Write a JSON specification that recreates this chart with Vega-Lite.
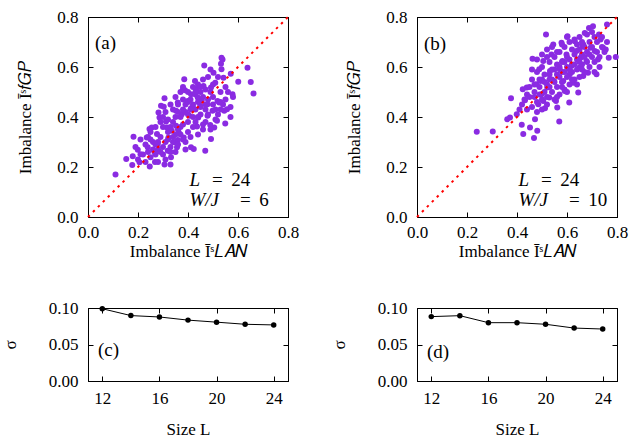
{
  "$schema": "https://vega.github.io/schema/vega-lite/v6.json",
  "background": "white",
  "padding": {"left": 0, "top": 7, "right": 5, "bottom": 2},
  "columns": 2,
  "bounds": "flush",
  "spacing": {"row": 91, "column": 129},
  "config": {
    "font": "Liberation Serif",
    "view": {"stroke": "black", "strokeWidth": 1},
    "style": {
      "guide-label": {"font": "Liberation Serif", "fontSize": 17, "fill": "black"},
      "guide-title": {"font": "Liberation Serif", "fontSize": 17, "fill": "black", "fontWeight": "normal"}
    },
    "axis": {
      "grid": false, "tickColor": "#000000", "tickWidth": 1, "domainColor": "black",
      "labelFont": "Liberation Serif", "labelFontSize": 17, "labelColor": "black",
      "titleFont": "Liberation Serif", "titleFontSize": 17, "titleFontWeight": "normal", "titleColor": "black",
      "labelFlush": false
    },
    "text": {"font": "Liberation Serif", "fontSize": 19, "color": "black"}
  },
  "datasets": {
    "one": [{}],
    "diag": [{"x": 0, "y": 0}, {"x": 0.8, "y": 0.8}],
    "scatterA": [
      {"x":0.110,"y":0.170},{"x":0.153,"y":0.232},{"x":0.179,"y":0.243},{"x":0.182,"y":0.321},{"x":0.177,"y":0.208},{"x":0.199,"y":0.269},{"x":0.210,"y":0.251},{"x":0.206,"y":0.219},{"x":0.235,"y":0.318},{"x":0.239,"y":0.279},{"x":0.247,"y":0.202},{"x":0.250,"y":0.239},{"x":0.246,"y":0.352},{"x":0.255,"y":0.358},{"x":0.268,"y":0.220},{"x":0.266,"y":0.259},{"x":0.276,"y":0.332},{"x":0.279,"y":0.292},{"x":0.286,"y":0.398},{"x":0.282,"y":0.418},{"x":0.292,"y":0.445},{"x":0.303,"y":0.441},{"x":0.306,"y":0.475},{"x":0.312,"y":0.382},{"x":0.316,"y":0.358},{"x":0.319,"y":0.265},{"x":0.306,"y":0.210},{"x":0.330,"y":0.210},{"x":0.332,"y":0.239},{"x":0.322,"y":0.318},{"x":0.335,"y":0.345},{"x":0.346,"y":0.299},{"x":0.359,"y":0.308},{"x":0.356,"y":0.279},{"x":0.352,"y":0.425},{"x":0.359,"y":0.458},{"x":0.352,"y":0.365},{"x":0.363,"y":0.338},{"x":0.375,"y":0.411},{"x":0.383,"y":0.318},{"x":0.385,"y":0.551},{"x":0.388,"y":0.507},{"x":0.380,"y":0.511},{"x":0.399,"y":0.464},{"x":0.405,"y":0.405},{"x":0.412,"y":0.279},{"x":0.423,"y":0.272},{"x":0.412,"y":0.435},{"x":0.412,"y":0.491},{"x":0.419,"y":0.441},{"x":0.428,"y":0.544},{"x":0.432,"y":0.511},{"x":0.439,"y":0.478},{"x":0.441,"y":0.398},{"x":0.436,"y":0.362},{"x":0.449,"y":0.445},{"x":0.455,"y":0.467},{"x":0.462,"y":0.524},{"x":0.465,"y":0.606},{"x":0.469,"y":0.265},{"x":0.478,"y":0.451},{"x":0.478,"y":0.405},{"x":0.489,"y":0.368},{"x":0.492,"y":0.312},{"x":0.498,"y":0.425},{"x":0.502,"y":0.577},{"x":0.509,"y":0.537},{"x":0.518,"y":0.464},{"x":0.516,"y":0.385},{"x":0.525,"y":0.458},{"x":0.532,"y":0.613},{"x":0.534,"y":0.637},{"x":0.534,"y":0.591},{"x":0.542,"y":0.557},{"x":0.545,"y":0.425},{"x":0.549,"y":0.374},{"x":0.556,"y":0.431},{"x":0.571,"y":0.573},{"x":0.578,"y":0.491},{"x":0.601,"y":0.541},{"x":0.638,"y":0.597},{"x":0.651,"y":0.540},{"x":0.662,"y":0.494},{"x":0.492,"y":0.518},{"x":0.505,"y":0.358},{"x":0.538,"y":0.630},
      {"x":0.26,"y":0.30},{"x":0.28,"y":0.27},{"x":0.30,"y":0.28},{"x":0.31,"y":0.30},{"x":0.33,"y":0.28},{"x":0.29,"y":0.32},{"x":0.27,"y":0.25},{"x":0.24,"y":0.26},{"x":0.23,"y":0.29},{"x":0.25,"y":0.31},{"x":0.32,"y":0.34},{"x":0.34,"y":0.32},{"x":0.36,"y":0.35},{"x":0.38,"y":0.37},{"x":0.37,"y":0.40},{"x":0.39,"y":0.42},{"x":0.40,"y":0.38},{"x":0.42,"y":0.40},{"x":0.43,"y":0.43},{"x":0.44,"y":0.46},{"x":0.41,"y":0.47},{"x":0.43,"y":0.49},{"x":0.45,"y":0.50},{"x":0.46,"y":0.48},{"x":0.47,"y":0.43},{"x":0.48,"y":0.47},{"x":0.49,"y":0.50},{"x":0.50,"y":0.48},{"x":0.51,"y":0.43},{"x":0.52,"y":0.41},{"x":0.47,"y":0.38},{"x":0.46,"y":0.35},{"x":0.44,"y":0.33},{"x":0.42,"y":0.36},{"x":0.40,"y":0.34},{"x":0.38,"y":0.31},{"x":0.36,"y":0.29},{"x":0.35,"y":0.26},{"x":0.30,"y":0.36},{"x":0.32,"y":0.39},{"x":0.34,"y":0.43},{"x":0.36,"y":0.45},{"x":0.38,"y":0.47},{"x":0.40,"y":0.50},{"x":0.42,"y":0.52},{"x":0.44,"y":0.53},{"x":0.46,"y":0.55},{"x":0.48,"y":0.56},{"x":0.50,"y":0.53},{"x":0.53,"y":0.50},{"x":0.55,"y":0.47},{"x":0.54,"y":0.45},{"x":0.56,"y":0.50},{"x":0.52,"y":0.56},{"x":0.49,"y":0.59},{"x":0.47,"y":0.51},{"x":0.39,"y":0.45},{"x":0.37,"y":0.50},{"x":0.41,"y":0.43},{"x":0.35,"y":0.40},{"x":0.33,"y":0.36},{"x":0.31,"y":0.42},{"x":0.29,"y":0.38},{"x":0.27,"y":0.36},{"x":0.25,"y":0.34},{"x":0.22,"y":0.25},{"x":0.20,"y":0.23},{"x":0.19,"y":0.28},{"x":0.21,"y":0.31},{"x":0.23,"y":0.22},{"x":0.28,"y":0.22},{"x":0.30,"y":0.25},{"x":0.34,"y":0.30},{"x":0.37,"y":0.33},{"x":0.39,"y":0.30},{"x":0.41,"y":0.32},{"x":0.43,"y":0.38},{"x":0.45,"y":0.41},{"x":0.47,"y":0.45},{"x":0.50,"y":0.45},{"x":0.51,"y":0.39},{"x":0.49,"y":0.35},{"x":0.46,"y":0.37},{"x":0.44,"y":0.40},{"x":0.40,"y":0.46},{"x":0.38,"y":0.43},{"x":0.36,"y":0.42},{"x":0.34,"y":0.38},{"x":0.32,"y":0.31},{"x":0.28,"y":0.30},{"x":0.26,"y":0.27},{"x":0.24,"y":0.32},{"x":0.30,"y":0.40},{"x":0.33,"y":0.45},{"x":0.35,"y":0.48},{"x":0.38,"y":0.52},{"x":0.45,"y":0.44},{"x":0.53,"y":0.46},{"x":0.57,"y":0.44},{"x":0.58,"y":0.48},{"x":0.48,"y":0.41},{"x":0.42,"y":0.45},{"x":0.40,"y":0.41},{"x":0.37,"y":0.36},{"x":0.35,"y":0.33},{"x":0.33,"y":0.26},{"x":0.31,"y":0.23},{"x":0.29,"y":0.26},{"x":0.27,"y":0.29},{"x":0.39,"y":0.27},{"x":0.43,"y":0.50},{"x":0.45,"y":0.52},{"x":0.55,"y":0.52},{"x":0.57,"y":0.40},{"x":0.53,"y":0.43}
    ],
    "scatterB": [
      {"x":0.239,"y":0.341},{"x":0.303,"y":0.342},{"x":0.372,"y":0.398},{"x":0.361,"y":0.391},{"x":0.376,"y":0.475},{"x":0.399,"y":0.411},{"x":0.419,"y":0.369},{"x":0.425,"y":0.332},{"x":0.423,"y":0.511},{"x":0.432,"y":0.467},{"x":0.439,"y":0.518},{"x":0.452,"y":0.358},{"x":0.462,"y":0.633},{"x":0.468,"y":0.316},{"x":0.472,"y":0.391},{"x":0.481,"y":0.345},{"x":0.478,"y":0.531},{"x":0.485,"y":0.451},{"x":0.489,"y":0.591},{"x":0.494,"y":0.544},{"x":0.498,"y":0.491},{"x":0.505,"y":0.464},{"x":0.512,"y":0.435},{"x":0.516,"y":0.730},{"x":0.505,"y":0.624},{"x":0.521,"y":0.518},{"x":0.529,"y":0.478},{"x":0.532,"y":0.584},{"x":0.538,"y":0.650},{"x":0.545,"y":0.690},{"x":0.548,"y":0.544},{"x":0.556,"y":0.464},{"x":0.561,"y":0.438},{"x":0.569,"y":0.382},{"x":0.571,"y":0.591},{"x":0.578,"y":0.697},{"x":0.582,"y":0.624},{"x":0.585,"y":0.544},{"x":0.591,"y":0.504},{"x":0.598,"y":0.650},{"x":0.602,"y":0.723},{"x":0.609,"y":0.458},{"x":0.611,"y":0.571},{"x":0.618,"y":0.604},{"x":0.625,"y":0.537},{"x":0.631,"y":0.703},{"x":0.638,"y":0.664},{"x":0.645,"y":0.498},{"x":0.649,"y":0.597},{"x":0.654,"y":0.637},{"x":0.662,"y":0.683},{"x":0.665,"y":0.564},{"x":0.671,"y":0.736},{"x":0.678,"y":0.624},{"x":0.684,"y":0.577},{"x":0.688,"y":0.756},{"x":0.694,"y":0.677},{"x":0.704,"y":0.763},{"x":0.711,"y":0.664},{"x":0.718,"y":0.571},{"x":0.724,"y":0.630},{"x":0.734,"y":0.710},{"x":0.744,"y":0.677},{"x":0.755,"y":0.670},{"x":0.760,"y":0.770},{"x":0.767,"y":0.637},{"x":0.795,"y":0.640},{"x":0.728,"y":0.730},{"x":0.665,"y":0.690},
      {"x":0.47,"y":0.50},{"x":0.49,"y":0.52},{"x":0.50,"y":0.55},{"x":0.51,"y":0.50},{"x":0.52,"y":0.53},{"x":0.53,"y":0.57},{"x":0.54,"y":0.55},{"x":0.55,"y":0.59},{"x":0.56,"y":0.57},{"x":0.57,"y":0.60},{"x":0.58,"y":0.58},{"x":0.59,"y":0.62},{"x":0.60,"y":0.60},{"x":0.61,"y":0.63},{"x":0.62,"y":0.61},{"x":0.63,"y":0.65},{"x":0.64,"y":0.63},{"x":0.65,"y":0.67},{"x":0.66,"y":0.65},{"x":0.67,"y":0.68},{"x":0.68,"y":0.66},{"x":0.69,"y":0.70},{"x":0.70,"y":0.68},{"x":0.71,"y":0.72},{"x":0.72,"y":0.70},{"x":0.48,"y":0.46},{"x":0.50,"y":0.47},{"x":0.52,"y":0.48},{"x":0.54,"y":0.50},{"x":0.56,"y":0.52},{"x":0.58,"y":0.54},{"x":0.60,"y":0.56},{"x":0.62,"y":0.58},{"x":0.64,"y":0.59},{"x":0.66,"y":0.61},{"x":0.68,"y":0.62},{"x":0.70,"y":0.64},{"x":0.72,"y":0.66},{"x":0.74,"y":0.68},{"x":0.53,"y":0.62},{"x":0.55,"y":0.64},{"x":0.57,"y":0.66},{"x":0.59,"y":0.68},{"x":0.61,"y":0.70},{"x":0.63,"y":0.71},{"x":0.65,"y":0.72},{"x":0.50,"y":0.60},{"x":0.52,"y":0.64},{"x":0.48,"y":0.58},{"x":0.46,"y":0.55},{"x":0.45,"y":0.52},{"x":0.44,"y":0.49},{"x":0.43,"y":0.47},{"x":0.42,"y":0.45},{"x":0.41,"y":0.43},{"x":0.46,"y":0.44},{"x":0.48,"y":0.42},{"x":0.50,"y":0.43},{"x":0.52,"y":0.45},{"x":0.55,"y":0.47},{"x":0.57,"y":0.49},{"x":0.59,"y":0.51},{"x":0.61,"y":0.53},{"x":0.63,"y":0.55},{"x":0.65,"y":0.56},{"x":0.67,"y":0.58},{"x":0.69,"y":0.60},{"x":0.71,"y":0.62},{"x":0.73,"y":0.64},{"x":0.75,"y":0.66},{"x":0.60,"y":0.64},{"x":0.62,"y":0.67},{"x":0.58,"y":0.62},{"x":0.56,"y":0.61},{"x":0.54,"y":0.59},{"x":0.51,"y":0.57},{"x":0.49,"y":0.55},{"x":0.47,"y":0.53},{"x":0.45,"y":0.48},{"x":0.44,"y":0.43},{"x":0.47,"y":0.48},{"x":0.53,"y":0.52},{"x":0.55,"y":0.54},{"x":0.57,"y":0.56},{"x":0.59,"y":0.58},{"x":0.61,"y":0.59},{"x":0.63,"y":0.61},{"x":0.65,"y":0.62},{"x":0.67,"y":0.64},{"x":0.69,"y":0.65},{"x":0.56,"y":0.66},{"x":0.58,"y":0.69},{"x":0.54,"y":0.68},{"x":0.52,"y":0.67},{"x":0.60,"y":0.72},{"x":0.64,"y":0.69},{"x":0.66,"y":0.70},{"x":0.68,"y":0.73},{"x":0.70,"y":0.74},{"x":0.51,"y":0.54},{"x":0.53,"y":0.55},{"x":0.49,"y":0.49},{"x":0.58,"y":0.52},{"x":0.62,"y":0.55},{"x":0.64,"y":0.53},{"x":0.60,"y":0.50},{"x":0.56,"y":0.48},{"x":0.74,"y":0.72},{"x":0.76,"y":0.70},{"x":0.73,"y":0.60},{"x":0.71,"y":0.58},{"x":0.66,"y":0.59},{"x":0.46,"y":0.59},{"x":0.48,"y":0.63},{"x":0.50,"y":0.65}
    ],
    "sigmaC": [{"L":12,"s":0.0990},{"L":14,"s":0.0896},{"L":16,"s":0.0877},{"L":18,"s":0.0834},{"L":20,"s":0.0806},{"L":22,"s":0.0777},{"L":24,"s":0.0768}],
    "sigmaD": [{"L":12,"s":0.0882},{"L":14,"s":0.0895},{"L":16,"s":0.0799},{"L":18,"s":0.0799},{"L":20,"s":0.0777},{"L":22,"s":0.0725},{"L":24,"s":0.0712}]
  },
  "concat": [
    {
      "width": 200, "height": 200,
      "layer": [
        {"layer": [
          {"data": {"name": "scatterA"}, "mark": {"type": "circle", "size": 36, "color": "#8a2be2", "opacity": 1},
           "encoding": {
             "x": {"field": "x", "type": "quantitative", "scale": {"domain": [0, 0.8]}, "axis": {"orient": "bottom", "values": [0, 0.2, 0.4, 0.6, 0.8], "format": ".1f", "title": "Imbalance Īˢ𝐿𝐴𝑁", "titlePadding": 3, "labelPadding": 12, "tickSize": -5, "tickColor": "#000000", "tickWidth": 1}},
             "y": {"field": "y", "type": "quantitative", "scale": {"domain": [0, 0.8]}, "axis": {"orient": "left", "values": [0, 0.2, 0.4, 0.6, 0.8], "format": ".1f", "title": "Imbalance Īˢ𝑓𝐺𝑃", "titlePadding": 22, "labelPadding": 15, "tickSize": -5, "tickColor": "#000000", "tickWidth": 1}}
           }},
          {"data": {"name": "one"}, "mark": {"type": "text", "align": "left", "baseline": "middle"},
           "encoding": {"x": {"datum": 0.028, "type": "quantitative"}, "y": {"datum": 0.698, "type": "quantitative"}, "text": {"value": "(a)"}}},
          {"data": {"name": "one"}, "mark": {"type": "text", "align": "left", "baseline": "middle", "fontStyle": "italic"},
           "encoding": {"x": {"datum": 0.406, "type": "quantitative"}, "y": {"datum": 0.147, "type": "quantitative"}, "text": {"value": "L"}}},
          {"data": {"name": "one"}, "mark": {"type": "text", "align": "center", "baseline": "middle"},
           "encoding": {"x": {"datum": 0.517, "type": "quantitative"}, "y": {"datum": 0.147, "type": "quantitative"}, "text": {"value": "="}}},
          {"data": {"name": "one"}, "mark": {"type": "text", "align": "left", "baseline": "middle"},
           "encoding": {"x": {"datum": 0.573, "type": "quantitative"}, "y": {"datum": 0.147, "type": "quantitative"}, "text": {"value": "24"}}},
          {"data": {"name": "one"}, "mark": {"type": "text", "align": "left", "baseline": "middle", "fontStyle": "italic"},
           "encoding": {"x": {"datum": 0.406, "type": "quantitative"}, "y": {"datum": 0.068, "type": "quantitative"}, "text": {"value": "W/J"}}},
          {"data": {"name": "one"}, "mark": {"type": "text", "align": "center", "baseline": "middle"},
           "encoding": {"x": {"datum": 0.629, "type": "quantitative"}, "y": {"datum": 0.068, "type": "quantitative"}, "text": {"value": "="}}},
          {"data": {"name": "one"}, "mark": {"type": "text", "align": "left", "baseline": "middle"},
           "encoding": {"x": {"datum": 0.685, "type": "quantitative"}, "y": {"datum": 0.068, "type": "quantitative"}, "text": {"value": "6"}}}
        ]},
        {"data": {"name": "diag"}, "mark": {"type": "line", "color": "#ff0000", "strokeDash": [2.5, 4.5], "strokeWidth": 2},
         "encoding": {
           "x": {"field": "x", "type": "quantitative", "scale": {"domain": [0, 0.8]}, "axis": {"orient": "top", "values": [0, 0.2, 0.4, 0.6, 0.8], "labels": false, "title": null, "tickSize": -5, "tickColor": "#000000", "tickWidth": 1}},
           "y": {"field": "y", "type": "quantitative", "scale": {"domain": [0, 0.8]}, "axis": {"orient": "right", "values": [0, 0.2, 0.4, 0.6, 0.8], "labels": false, "title": null, "tickSize": -5, "tickColor": "#000000", "tickWidth": 1}}
         }}
      ],
      "resolve": {"axis": {"x": "independent", "y": "independent"}}
    },
    {
      "width": 200, "height": 200,
      "layer": [
        {"layer": [
          {"data": {"name": "scatterB"}, "mark": {"type": "circle", "size": 36, "color": "#8a2be2", "opacity": 1},
           "encoding": {
             "x": {"field": "x", "type": "quantitative", "scale": {"domain": [0, 0.8]}, "axis": {"orient": "bottom", "values": [0, 0.2, 0.4, 0.6, 0.8], "format": ".1f", "title": "Imbalance Īˢ𝐿𝐴𝑁", "titlePadding": 3, "labelPadding": 12, "tickSize": -5, "tickColor": "#000000", "tickWidth": 1}},
             "y": {"field": "y", "type": "quantitative", "scale": {"domain": [0, 0.8]}, "axis": {"orient": "left", "values": [0, 0.2, 0.4, 0.6, 0.8], "format": ".1f", "title": "Imbalance Īˢ𝑓𝐺𝑃", "titlePadding": 22, "labelPadding": 15, "tickSize": -5, "tickColor": "#000000", "tickWidth": 1}}
           }},
          {"data": {"name": "one"}, "mark": {"type": "text", "align": "left", "baseline": "middle"},
           "encoding": {"x": {"datum": 0.028, "type": "quantitative"}, "y": {"datum": 0.694, "type": "quantitative"}, "text": {"value": "(b)"}}},
          {"data": {"name": "one"}, "mark": {"type": "text", "align": "left", "baseline": "middle", "fontStyle": "italic"},
           "encoding": {"x": {"datum": 0.406, "type": "quantitative"}, "y": {"datum": 0.147, "type": "quantitative"}, "text": {"value": "L"}}},
          {"data": {"name": "one"}, "mark": {"type": "text", "align": "center", "baseline": "middle"},
           "encoding": {"x": {"datum": 0.517, "type": "quantitative"}, "y": {"datum": 0.147, "type": "quantitative"}, "text": {"value": "="}}},
          {"data": {"name": "one"}, "mark": {"type": "text", "align": "left", "baseline": "middle"},
           "encoding": {"x": {"datum": 0.573, "type": "quantitative"}, "y": {"datum": 0.147, "type": "quantitative"}, "text": {"value": "24"}}},
          {"data": {"name": "one"}, "mark": {"type": "text", "align": "left", "baseline": "middle", "fontStyle": "italic"},
           "encoding": {"x": {"datum": 0.406, "type": "quantitative"}, "y": {"datum": 0.068, "type": "quantitative"}, "text": {"value": "W/J"}}},
          {"data": {"name": "one"}, "mark": {"type": "text", "align": "center", "baseline": "middle"},
           "encoding": {"x": {"datum": 0.629, "type": "quantitative"}, "y": {"datum": 0.068, "type": "quantitative"}, "text": {"value": "="}}},
          {"data": {"name": "one"}, "mark": {"type": "text", "align": "left", "baseline": "middle"},
           "encoding": {"x": {"datum": 0.685, "type": "quantitative"}, "y": {"datum": 0.068, "type": "quantitative"}, "text": {"value": "10"}}}
        ]},
        {"data": {"name": "diag"}, "mark": {"type": "line", "color": "#ff0000", "strokeDash": [2.5, 4.5], "strokeWidth": 2},
         "encoding": {
           "x": {"field": "x", "type": "quantitative", "scale": {"domain": [0, 0.8]}, "axis": {"orient": "top", "values": [0, 0.2, 0.4, 0.6, 0.8], "labels": false, "title": null, "tickSize": -5, "tickColor": "#000000", "tickWidth": 1}},
           "y": {"field": "y", "type": "quantitative", "scale": {"domain": [0, 0.8]}, "axis": {"orient": "right", "values": [0, 0.2, 0.4, 0.6, 0.8], "labels": false, "title": null, "tickSize": -5, "tickColor": "#000000", "tickWidth": 1}}
         }}
      ],
      "resolve": {"axis": {"x": "independent", "y": "independent"}}
    },
    {
      "width": 200, "height": 73,
      "layer": [
        {"layer": [
          {"data": {"name": "sigmaC"}, "mark": {"type": "line", "color": "black", "strokeWidth": 1, "point": {"filled": true, "size": 30, "color": "black"}},
           "encoding": {
             "x": {"field": "L", "type": "quantitative", "scale": {"domain": [11, 25]}, "axis": {"orient": "bottom", "values": [12, 16, 20, 24], "title": "Size L", "titlePadding": 15, "labelPadding": 14, "tickSize": -5, "tickColor": "#000000", "tickWidth": 1}},
             "y": {"field": "s", "type": "quantitative", "scale": {"domain": [0, 0.1]}, "axis": {"orient": "left", "tickCount": 2, "format": ".2f", "title": "σ", "titlePadding": 29, "labelPadding": 15, "labelOverlap": false, "tickSize": -5, "tickColor": "#000000", "tickWidth": 1}}
           }},
          {"data": {"name": "one"}, "mark": {"type": "text", "align": "left", "baseline": "middle"},
           "encoding": {"x": {"datum": 11.7, "type": "quantitative"}, "y": {"datum": 0.042, "type": "quantitative"}, "text": {"value": "(c)"}}}
        ]},
        {"data": {"name": "sigmaC"}, "mark": {"type": "point", "opacity": 0},
         "encoding": {
           "x": {"field": "L", "type": "quantitative", "scale": {"domain": [11, 25]}, "axis": {"orient": "top", "values": [12, 16, 20, 24], "labels": false, "title": null, "tickSize": -5, "tickColor": "#000000", "tickWidth": 1}},
           "y": {"field": "s", "type": "quantitative", "scale": {"domain": [0, 0.1]}, "axis": {"orient": "right", "tickCount": 2, "labels": false, "title": null, "tickSize": -5, "tickColor": "#000000", "tickWidth": 1}}
         }}
      ],
      "resolve": {"axis": {"x": "independent", "y": "independent"}}
    },
    {
      "width": 200, "height": 73,
      "layer": [
        {"layer": [
          {"data": {"name": "sigmaD"}, "mark": {"type": "line", "color": "black", "strokeWidth": 1, "point": {"filled": true, "size": 30, "color": "black"}},
           "encoding": {
             "x": {"field": "L", "type": "quantitative", "scale": {"domain": [11, 25]}, "axis": {"orient": "bottom", "values": [12, 16, 20, 24], "title": "Size L", "titlePadding": 15, "labelPadding": 14, "tickSize": -5, "tickColor": "#000000", "tickWidth": 1}},
             "y": {"field": "s", "type": "quantitative", "scale": {"domain": [0, 0.1]}, "axis": {"orient": "left", "tickCount": 2, "format": ".2f", "title": "σ", "titlePadding": 29, "labelPadding": 15, "labelOverlap": false, "tickSize": -5, "tickColor": "#000000", "tickWidth": 1}}
           }},
          {"data": {"name": "one"}, "mark": {"type": "text", "align": "left", "baseline": "middle"},
           "encoding": {"x": {"datum": 11.7, "type": "quantitative"}, "y": {"datum": 0.040, "type": "quantitative"}, "text": {"value": "(d)"}}}
        ]},
        {"data": {"name": "sigmaD"}, "mark": {"type": "point", "opacity": 0},
         "encoding": {
           "x": {"field": "L", "type": "quantitative", "scale": {"domain": [11, 25]}, "axis": {"orient": "top", "values": [12, 16, 20, 24], "labels": false, "title": null, "tickSize": -5, "tickColor": "#000000", "tickWidth": 1}},
           "y": {"field": "s", "type": "quantitative", "scale": {"domain": [0, 0.1]}, "axis": {"orient": "right", "tickCount": 2, "labels": false, "title": null, "tickSize": -5, "tickColor": "#000000", "tickWidth": 1}}
         }}
      ],
      "resolve": {"axis": {"x": "independent", "y": "independent"}}
    }
  ]
}
